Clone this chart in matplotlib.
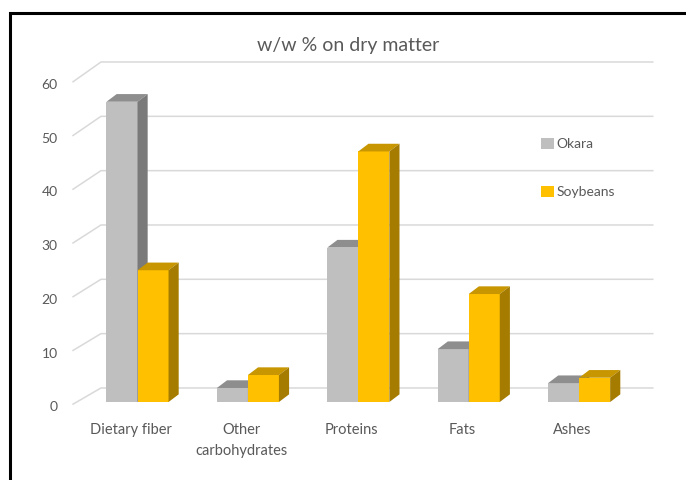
import numpy as np
import matplotlib
matplotlib.use("Agg")
import matplotlib.pyplot as plt
from matplotlib.patches import Polygon, Rectangle

plt.rcParams['font.family'] = ['Lato', 'DejaVu Sans']

categories = ['Dietary fiber', 'Other\ncarbohydrates', 'Proteins', 'Fats', 'Ashes']
okara = [55.6, 2.6, 28.6, 9.8, 3.5]
soybeans = [24.4, 5.0, 46.4, 20.0, 4.5]
yticks = [0, 10, 20, 30, 40, 50, 60]

series = [
    ('Okara', okara, '#BFBFBF', '#8E8E8E', '#7A7A7A'),
    ('Soybeans', soybeans, '#FFC000', '#C79600', '#A57C00'),
]

fig = plt.figure(figsize=(6.86, 4.8), dpi=100)
ax = fig.add_axes([0, 0, 1, 1])
# one category = 110.4 px, one unit of value = 5.4 px
ax.set_xlim(-1.2455, 4.968)
ax.set_ylim(-14.44, 74.44)
ax.axis('off')

x = np.arange(len(categories))
w = 0.281          # bar width in category units
ddx, ddy = 0.092, 1.42   # bar depth offset
fx0, bx0, bx1 = -0.584, -0.331, 4.667  # floor front-left, wall left, wall right

# walls: gridlines run from the front edge back to the wall, then across
for v in yticks:
    fy = v * 0.995 - 0.4
    by = v * 1.006 + 2.6
    ax.plot([fx0, bx0, bx1], [fy, by, by], color='#D9D9D9', lw=1.1, zorder=1,
            solid_joinstyle='miter')
    ax.text(fx0 - 0.14, fy - 0.6, str(v), ha='right', va='center', fontsize=10,
            color='#595959')

bars = []
for k, (name, vals, front, top, side) in enumerate(series):
    x0 = x - w + k * w
    b = ax.bar(x0, vals, width=w, align='edge', color=front, label=name,
               zorder=2 + k)
    bars.append(b)
    for xi, h in zip(x0, vals):
        ax.add_patch(Polygon([(xi, h), (xi + w, h), (xi + w + ddx, h + ddy),
                              (xi + ddx, h + ddy)], closed=True,
                             facecolor=top, edgecolor='none', zorder=2 + k))
        ax.add_patch(Polygon([(xi + w, 0), (xi + w + ddx, ddy),
                              (xi + w + ddx, h + ddy), (xi + w, h)], closed=True,
                             facecolor=side, edgecolor='none', zorder=2 + k))

for xi, lab in zip(x, categories):
    ax.text(xi - 0.06, -3.9, lab, ha='center', va='top', fontsize=10.5,
            color='#595959', linespacing=1.6)

fig.text(0.508, 0.906, 'w/w % on dry matter', ha='center', va='center',
         fontsize=14, color='#595959')

leg = ax.legend(handles=bars, loc='upper left', bbox_to_anchor=(0.789, 0.713),
                frameon=False, fontsize=10, labelcolor='#595959',
                handlelength=0.9, handleheight=0.9, handletextpad=0.2,
                labelspacing=2.55, borderpad=0, borderaxespad=0)

# outer frame, open at right and bottom
fig.patches.append(Rectangle((10 / 686, -0.1), 1.2, 1.1 - 13.5 / 480,
                             transform=fig.transFigure, fill=False,
                             edgecolor='black', lw=2.2, zorder=10))

fig.savefig('out.png', dpi=100)
